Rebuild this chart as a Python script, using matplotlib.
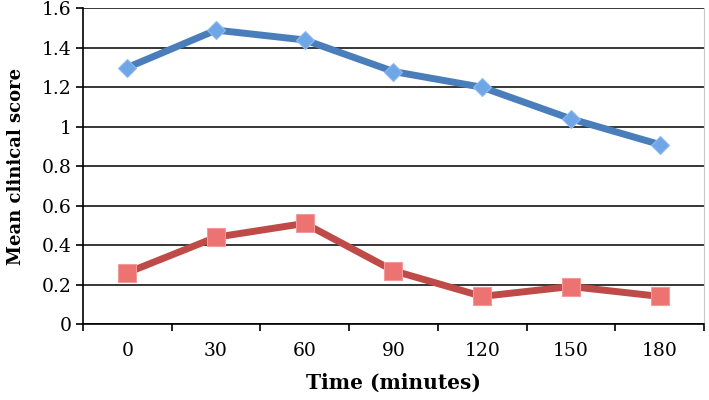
import numpy as np
import matplotlib.pyplot as plt
from matplotlib.ticker import FixedLocator, NullFormatter

times = ["0", "30", "60", "90", "120", "150", "180"]
blue_scores = [1.30, 1.49, 1.44, 1.28, 1.20, 1.04, 0.91]
red_scores = [0.26, 0.44, 0.51, 0.27, 0.14, 0.19, 0.14]
yticks = [0, 0.2, 0.4, 0.6, 0.8, 1, 1.2, 1.4, 1.6]
ytick_labels = ["0", "0.2", "0.4", "0.6", "0.8", "1", "1.2", "1.4", "1.6"]

plt.rcParams['font.family'] = ['DejaVu Serif']

fig = plt.figure(figsize=(7.09, 4.0), dpi=100)
ax = fig.add_axes([0.117, 0.19, 0.876, 0.789])

x = np.arange(len(times))
ax.plot(x, blue_scores, color='#4a7ebb', lw=5, marker='D', ms=9.5,
        mfc='#6fa6e6', mec='#8fbaf0', mew=0.8, zorder=3)
ax.plot(x, red_scores, color='#be4b48', lw=5, marker='s', ms=13,
        mfc='#ec7372', mec='#f29a99', mew=0.8, zorder=3)

ax.set_xlim(-0.5, len(times) - 0.5)
ax.set_ylim(0, 1.6)
ax.set_yticks(yticks)
ax.set_yticklabels(ytick_labels)
ax.set_xticks(x)
ax.set_xticklabels(times)
ax.xaxis.set_minor_locator(FixedLocator(np.arange(-0.5, len(times), 1)))
ax.xaxis.set_minor_formatter(NullFormatter())
ax.tick_params(axis='x', which='major', length=0, pad=13, labelsize=13.5)
ax.tick_params(axis='x', which='minor', length=5, width=1.2, color='black')
ax.tick_params(axis='y', length=5, width=1.2, pad=3, labelsize=13.5)

ax.grid(axis='y', color='black', lw=1.1)
ax.set_axisbelow(True)
for side in ['left', 'bottom']:
    ax.spines[side].set_color('black')
    ax.spines[side].set_linewidth(1.2)
ax.spines['top'].set_visible(False)
ax.spines['right'].set_color('#c8c8c8')

ax.set_xlabel("Time (minutes)", fontsize=14.5, fontweight='bold', labelpad=9)
ax.set_ylabel("Mean clinical score", fontsize=13, fontweight='bold', labelpad=12)

fig.savefig("out.png", dpi=100)
